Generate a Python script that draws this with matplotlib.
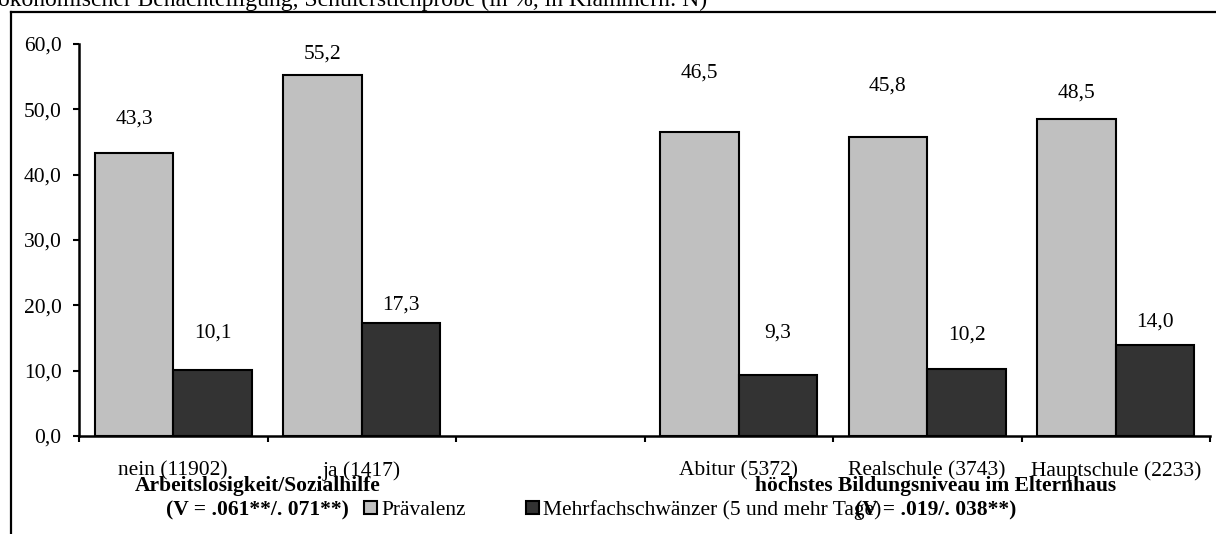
import numpy as np
import matplotlib
matplotlib.use("Agg")
import matplotlib.pyplot as plt
from matplotlib.lines import Line2D

# --- data -------------------------------------------------------------
categories = ["nein (11902)", "ja (1417)", "", "Abitur (5372)",
              "Realschule (3743)", "Hauptschule (2233)"]
praevalenz = [43.3, 55.2, np.nan, 46.5, 45.8, 48.5]
mehrfach = [10.1, 17.3, np.nan, 9.3, 10.2, 14.0]
series_names = ["Prävalenz", "Mehrfachschwänzer (5 und mehr Tage)"]
group_titles = ["Arbeitslosigkeit/Sozialhilfe", "höchstes Bildungsniveau im Elternhaus"]
group_stats = ["(V = .061**/. 071**)", "(V = .019/. 038**)"]
yticks = [0, 10, 20, 30, 40, 50, 60]
title = "ökonomischer Benachteiligung, Schülerstichprobe (in %, in Klammern: N)"

# label lift above bar top (pixels), as hand-placed in the original layout
lift_light = [34, 21, 0, 59, 51, 26]
lift_dark = [37, 18, 0, 42, 34, 22]

# --- style ------------------------------------------------------------
W, H, DPI = 1216, 534, 100
plt.rcParams["font.family"] = ["Liberation Serif", "DejaVu Serif"]
FS = 15.5
LIGHT = "#C0C0C0"
DARK = "#333333"

fig = plt.figure(figsize=(W / DPI, H / DPI), dpi=DPI)
ax_l, ax_r, ax_b, ax_t = 79, 1210, 436, 44
ax = fig.add_axes([ax_l / W, 1 - ax_b / H, (ax_r - ax_l) / W, (ax_b - ax_t) / H])

n = len(categories)
centers = np.arange(n) + 0.5
bw = 0.4165

bars_light = ax.bar(centers - bw / 2, praevalenz, width=bw, color=LIGHT,
                    edgecolor="black", linewidth=1.5, label=series_names[0], zorder=2)
bars_dark = ax.bar(centers + bw / 2, mehrfach, width=bw, color=DARK,
                   edgecolor="black", linewidth=1.5, label=series_names[1], zorder=2)

def fmt(v):
    return f"{v:.1f}".replace(".", ",")

for xs, vals, lifts in ((centers - bw / 2, praevalenz, lift_light),
                        (centers + bw / 2, mehrfach, lift_dark)):
    for x, v, lf in zip(xs, vals, lifts):
        if np.isnan(v):
            continue
        ax.annotate(fmt(v), xy=(x, v), xytext=(0, lf * 72 / DPI),
                    textcoords="offset points", ha="center", va="center",
                    fontsize=FS)

ax.set_xlim(0, n)
ax.set_ylim(0, 60)
ax.set_yticks(yticks)
ax.set_yticklabels([fmt(t) for t in yticks], fontsize=FS)
ax.set_xticks(np.arange(n + 1))
ax.set_xticklabels([])
ax.set_xticks(centers, minor=True)
ax.set_xticklabels(categories, minor=True, fontsize=FS)
ax.tick_params(axis="x", which="major", direction="out", length=4.5, width=1.5)
ax.tick_params(axis="x", which="minor", length=0, pad=18)
ax.tick_params(axis="y", direction="out", length=4.5, width=1.5, pad=8)

for s in ("top", "right"):
    ax.spines[s].set_visible(False)
for s in ("left", "bottom"):
    ax.spines[s].set_linewidth(1.8)

# group captions under the axis
def data_x_to_fig(xd):
    disp = ax.transData.transform((xd, 0))
    return fig.transFigure.inverted().transform(disp)[0]

gx = [data_x_to_fig(1.0) - 10 / W, data_x_to_fig(4.5) + 8 / W]
for x, t, s in zip(gx, group_titles, group_stats):
    fig.text(x, 1 - 486 / H, t, ha="center", va="center", fontsize=FS,
             fontweight="bold")
    fig.text(x, 1 - 510 / H, s, ha="center", va="center", fontsize=FS,
             fontweight="bold")

fig.legend(handles=[bars_light, bars_dark], labels=series_names, ncol=2,
           loc="center left", bbox_to_anchor=(364 / W, 1 - 510 / H),
           frameon=False, fontsize=FS, handlelength=0.6, handleheight=0.6,
           handletextpad=0.2, columnspacing=2.8, borderpad=0, borderaxespad=0)

# frame around the figure area and the partly visible caption above it
fig.add_artist(Line2D([10.5 / W, 10.5 / W], [0, 1 - 12 / H], color="black",
                      linewidth=1.6, transform=fig.transFigure))
fig.add_artist(Line2D([10.5 / W, 1], [1 - 12 / H, 1 - 12 / H], color="black",
                      linewidth=1.6, transform=fig.transFigure))
fig.text(-2 / W, 1 - 6 / H, title, ha="left", va="baseline", fontsize=17)

fig.savefig("out.png", dpi=DPI)
